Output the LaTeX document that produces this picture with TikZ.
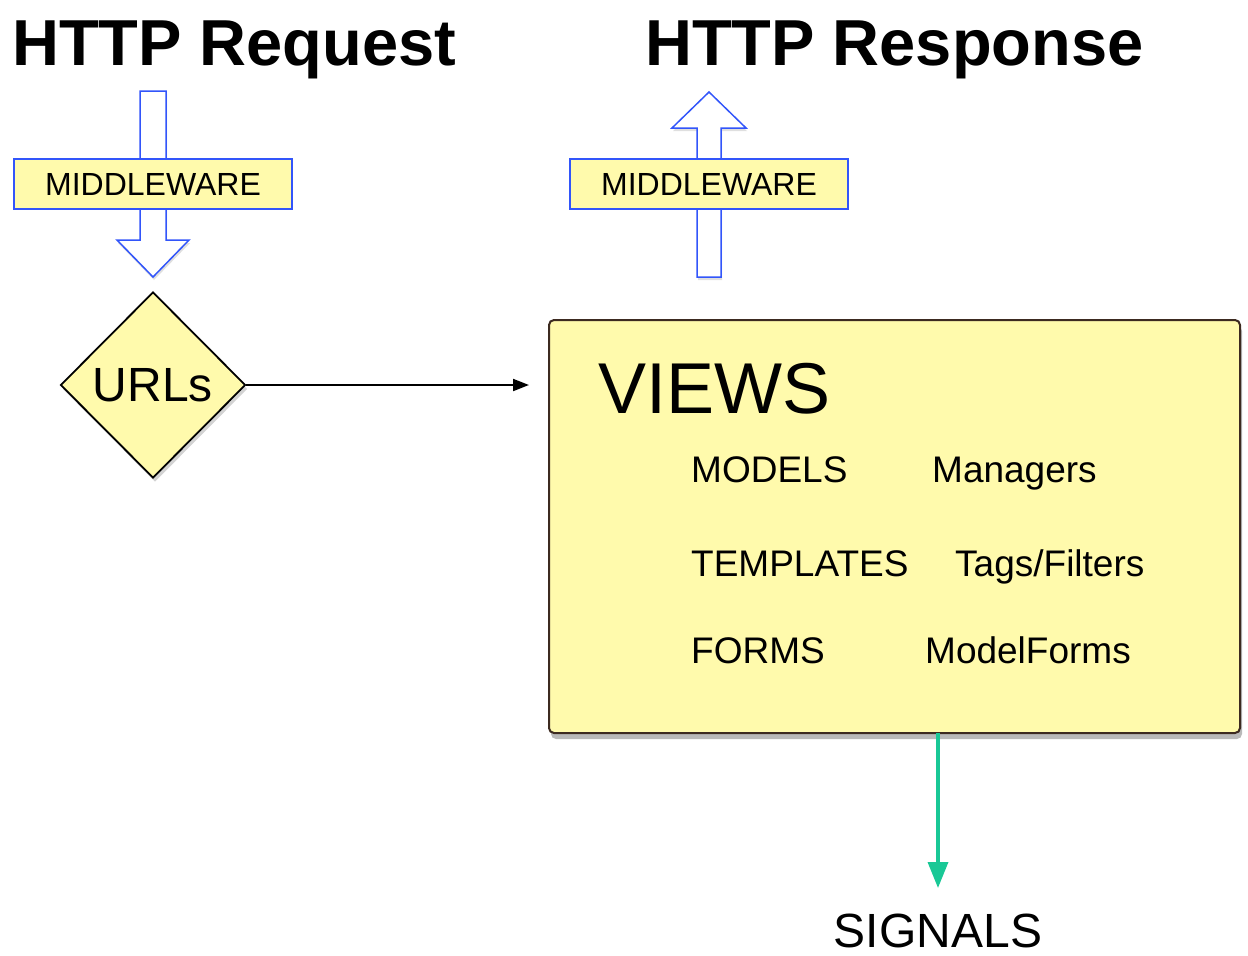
\documentclass[tikz,border=0pt]{standalone}
\usepackage{fontspec}
\setmainfont{Liberation Sans}
\usetikzlibrary{shapes.geometric,shadows,arrows.meta}
\definecolor{yel}{RGB}{255,250,172}
\definecolor{mwblue}{RGB}{50,85,250}
\definecolor{siggreen}{RGB}{25,200,150}
\definecolor{boxbrown}{RGB}{60,42,32}
\tikzset{
  title/.style={inner sep=0pt, anchor=base west, font=\bfseries\fontsize{65}{65}\selectfont},
  mwbox/.style={draw=mwblue, line width=1.5pt, fill=yel, minimum width=278pt, minimum height=50pt, inner sep=0pt, font=\fontsize{32}{32}\selectfont},
  blockarrow/.style={draw=mwblue, line width=1.5pt, fill=white, line join=miter, drop shadow={opacity=0.25, shadow xshift=1pt, shadow yshift=-3pt}},
  urlsnode/.style={diamond, draw=black, line width=1.8pt, fill=yel, minimum width=185pt, minimum height=186pt, inner sep=0pt, font=\fontsize{48}{48}\selectfont, drop shadow={opacity=0.35, shadow xshift=2pt, shadow yshift=-4pt}},
  viewsbox/.style={draw=boxbrown, line width=2pt, fill=yel, rounded corners=5pt, minimum width=691pt, minimum height=413pt, inner sep=0pt, drop shadow={opacity=0.55, shadow xshift=2pt, shadow yshift=-6pt}},
  item/.style={inner sep=0pt, anchor=base west, font=\fontsize{37}{37}\selectfont},
  plainarrow/.style={-{Triangle[length=16pt,width=12pt]}, line width=2pt, black},
  sigarrow/.style={-{Triangle[length=26pt,width=20pt]}, line width=3.5pt, siggreen},
}
\begin{document}
\begin{tikzpicture}[x=1pt,y=-1pt]
\useasboundingbox (0,0) rectangle (1248,956);
% titles
\node[title] (req) at (12,65) {HTTP Request};
\node[title] (resp) at (645,65) {HTTP Response};
% left down block arrow
\draw[blockarrow] (140,91) -- (166,91) -- (166,240) -- (189,240) -- (153,277) -- (117,240) -- (140,240) -- cycle;
\node[mwbox] (mwl) at (153,184) {MIDDLEWARE};
% right up block arrow
\draw[blockarrow] (697,277) -- (721,277) -- (721,128) -- (746,128) -- (709,92) -- (672,128) -- (697,128) -- cycle;
\node[mwbox] (mwr) at (709,184) {MIDDLEWARE};
% URLs diamond
\node[urlsnode] (urls) at (153,385) {URLs};
% views box
\node[viewsbox] (views) at (894.5,526.5) {};
\node[inner sep=0pt, anchor=base west, font=\fontsize{72}{72}\selectfont] (vt) at (598,413) {VIEWS};
\node[item] (models) at (691,482) {MODELS};
\node[item] (managers) at (932,482) {Managers};
\node[item] (templates) at (691,576) {TEMPLATES};
\node[item] (tags) at (955,576) {Tags/Filters};
\node[item] (forms) at (691,663) {FORMS};
\node[item] (mforms) at (925,663) {ModelForms};
% signals
\node[inner sep=0pt, anchor=base, font=\fontsize{48}{48}\selectfont] (signals) at (938,947) {SIGNALS};
\coordinate (sigtop) at (938,733);
\coordinate (sigend) at (938,888);
% connectors
\draw[plainarrow, shorten >=19pt] (urls.east) -- (views.west |- urls.east);
\draw[sigarrow] (sigtop) -- (sigend);
\end{tikzpicture}
\end{document}
